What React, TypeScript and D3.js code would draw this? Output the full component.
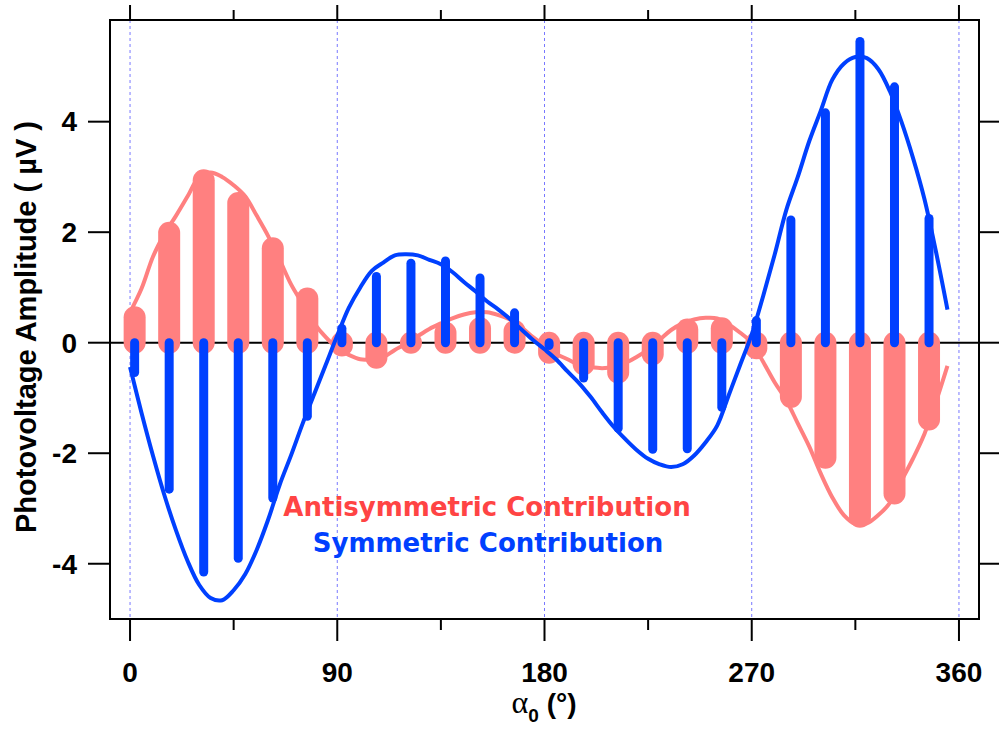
import React from 'react';
import * as d3 from 'd3';

// measurement angles (deg) and the two stem series (µV)
const stemAngles = [2, 17, 32, 47, 62, 77, 92, 107, 122, 137, 152, 167, 182, 197, 212, 227, 242, 257, 272, 287, 302, 317, 332, 347];
const antisymValues = [0.46, 1.99, 2.94, 2.53, 1.71, 0.8, -0.05, -0.27, 0.0, 0.18, 0.26, 0.21, -0.18, -0.39, -0.54, -0.21, 0.24, 0.26, -0.1, -0.98, -2.08, -3.15, -2.73, -1.39];
const symValues = [-0.54, -2.65, -4.15, -3.9, -2.81, -1.33, 0.26, 1.2, 1.44, 1.48, 1.17, 0.54, -0.05, -0.64, -1.55, -1.93, -1.92, -1.17, 0.4, 2.22, 4.16, 5.45, 4.63, 2.25];

// fitted curves
const fitAngles = [0, 5, 10, 15, 20, 25, 30, 35, 40, 45, 50, 55, 60, 65, 70, 75, 80, 85, 90, 95, 100, 105, 110, 115, 120, 125, 130, 135, 140, 145, 150, 155, 160, 165, 170, 175, 180, 185, 190, 195, 200, 205, 210, 215, 220, 225, 230, 235, 240, 245, 250, 255, 260, 265, 270, 275, 280, 285, 290, 295, 300, 305, 310, 315, 320, 325, 330, 335, 340, 345, 350, 355];
const antisymFit = [0.55, 0.98, 1.56, 1.97, 2.3, 2.65, 3.0, 3.08, 3.0, 2.85, 2.65, 2.3, 1.93, 1.5, 1.05, 0.7, 0.35, 0.1, -0.1, -0.22, -0.3, -0.3, -0.26, -0.13, -0.02, 0.12, 0.25, 0.35, 0.44, 0.51, 0.55, 0.55, 0.5, 0.42, 0.28, 0.1, -0.05, -0.2, -0.3, -0.4, -0.44, -0.46, -0.44, -0.37, -0.26, -0.12, 0.05, 0.23, 0.35, 0.42, 0.45, 0.44, 0.33, 0.18, 0.0, -0.35, -0.72, -1.04, -1.46, -1.88, -2.37, -2.8, -3.12, -3.28, -3.27, -3.12, -2.9, -2.5, -2.1, -1.65, -1.07, -0.42];
const symFit = [-0.44, -1.27, -2.05, -2.77, -3.4, -3.95, -4.38, -4.62, -4.66, -4.48, -4.19, -3.75, -3.2, -2.57, -2.03, -1.46, -0.93, -0.4, 0.13, 0.63, 1.0, 1.3, 1.45, 1.58, 1.6, 1.58, 1.5, 1.42, 1.28, 1.1, 0.93, 0.75, 0.6, 0.43, 0.24, 0.05, -0.12, -0.3, -0.52, -0.73, -0.98, -1.26, -1.52, -1.74, -1.94, -2.1, -2.2, -2.25, -2.2, -2.04, -1.8, -1.5, -0.95, -0.4, 0.15, 0.85, 1.6, 2.4, 3.0, 3.65, 4.2, 4.76, 5.05, 5.17, 5.15, 4.95, 4.55, 4.0, 3.35, 2.6, 1.65, 0.6];

const xTicks = [0, 90, 180, 270, 360];
const xMinorTicks = [45, 135, 225, 315];
const yTicks = [-4, -2, 0, 2, 4];

const RED = '#ff8080';
const RED_TEXT = '#ff4444';
const BLUE = '#0040ff';
const SANS = '"Liberation Sans", Arial, sans-serif';

const W = 999;
const H = 731;
const left = 110, right = 979, top = 20, bottom = 619;

const App = () => {
  const x = d3.scaleLinear().domain([-8.7, 368.7]).range([left, right]);
  const y = d3.scaleLinear().domain([-5.0, 5.84]).range([bottom, top]);

  const fitLine = d3.line<[number, number]>()
    .x(d => x(d[0]))
    .y(d => y(d[1]))
    .curve(d3.curveCatmullRom);

  const redFit = fitLine(fitAngles.map((a, i) => [a, antisymFit[i]] as [number, number])) || '';
  const blueFit = fitLine(fitAngles.map((a, i) => [a, symFit[i]] as [number, number])) || '';

  return (
    <svg width={W} height={H} viewBox={`0 0 ${W} ${H}`}
      style={{ position: 'absolute', left: 0, top: 0, background: '#fff', display: 'block' }}>
      {/* vertical dotted grid at major x ticks */}
      {xTicks.map(t => (
        <line key={'g' + t} x1={x(t)} x2={x(t)} y1={top} y2={bottom}
          stroke="#7878ff" strokeWidth={1} strokeDasharray="3,3" />
      ))}

      {/* zero line */}
      <line x1={left} x2={right} y1={y(0)} y2={y(0)} stroke="#000" strokeWidth={2} />

      {/* antisymmetric stems */}
      {stemAngles.map((a, i) => (
        <line key={'r' + a} x1={x(a)} x2={x(a)} y1={y(0)} y2={y(antisymValues[i])}
          stroke={RED} strokeWidth={22} strokeLinecap="round" />
      ))}
      <path d={redFit} fill="none" stroke={RED} strokeWidth={4} strokeLinejoin="round" />

      {/* symmetric stems */}
      {stemAngles.map((a, i) => (
        <line key={'b' + a} x1={x(a)} x2={x(a)} y1={y(0)} y2={y(symValues[i])}
          stroke={BLUE} strokeWidth={9} strokeLinecap="round" />
      ))}
      <path d={blueFit} fill="none" stroke={BLUE} strokeWidth={4} strokeLinejoin="round" />

      {/* frame */}
      <rect x={left} y={top} width={right - left} height={bottom - top} fill="none" stroke="#000" strokeWidth={2} />

      {/* bottom axis */}
      {xTicks.map(t => (
        <g key={'xb' + t}>
          <line x1={x(t)} x2={x(t)} y1={bottom} y2={bottom + 22} stroke="#000" strokeWidth={2} />
          <line x1={x(t)} x2={x(t)} y1={top} y2={top - 15} stroke="#000" strokeWidth={2} />
          <text x={x(t)} y={682} textAnchor="middle" fontFamily={SANS} fontWeight="bold" fontSize={28}>{t}</text>
        </g>
      ))}
      {xMinorTicks.map(t => (
        <g key={'xm' + t}>
          <line x1={x(t)} x2={x(t)} y1={bottom} y2={bottom + 11} stroke="#000" strokeWidth={2} />
          <line x1={x(t)} x2={x(t)} y1={top} y2={top - 10} stroke="#000" strokeWidth={2} />
        </g>
      ))}

      {/* left / right axes */}
      {yTicks.map(t => (
        <g key={'y' + t}>
          <line x1={left - 22} x2={left} y1={y(t)} y2={y(t)} stroke="#000" strokeWidth={2} />
          <line x1={right} x2={right + 22} y1={y(t)} y2={y(t)} stroke="#000" strokeWidth={2} />
          <text x={77} y={y(t)} dy="0.35em" textAnchor="end" fontFamily={SANS} fontWeight="bold" fontSize={28}>{t}</text>
        </g>
      ))}

      {/* axis titles */}
      <text transform="translate(36,327) rotate(-90)" textAnchor="middle" fontFamily={SANS} fontWeight="bold" fontSize={29}>
        Photovoltage Amplitude ( µV )
      </text>
      <text x={544} y={713} textAnchor="middle" fontFamily={SANS} fontWeight="bold" fontSize={28}>
        <tspan fontFamily='"Liberation Serif", serif' fontWeight="normal" fontSize={32}>α</tspan>
        <tspan fontSize={19} dy={9}>0</tspan>
        <tspan dy={-9}> (°)</tspan>
      </text>

      {/* labels */}
      <text x={487} y={516} textAnchor="middle" fontFamily='"DejaVu Sans", sans-serif' fontWeight="bold" fontSize={26} fill={RED_TEXT}>
        Antisymmetric Contribution
      </text>
      <text x={488} y={552} textAnchor="middle" fontFamily='"DejaVu Sans", sans-serif' fontWeight="bold" fontSize={26} fill={BLUE}>
        Symmetric Contribution
      </text>
    </svg>
  );
};

export default App;
